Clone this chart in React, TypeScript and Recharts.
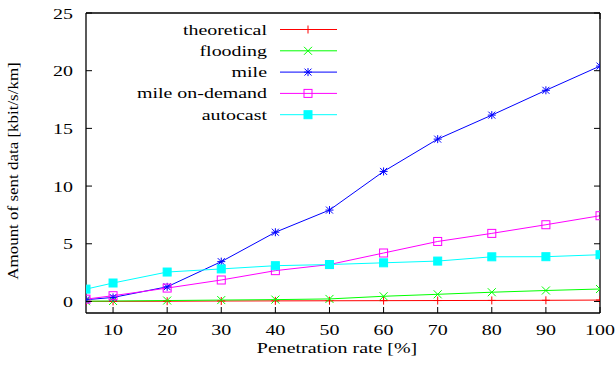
import { Legend, Line, LineChart, XAxis, YAxis } from "recharts";

// penetration rate [%]
const rates = [5, 10, 20, 30, 40, 50, 60, 70, 80, 90, 100];

// amount of sent data [kbit/s/km]
const theoretical = [0.01, 0.01, 0.02, 0.04, 0.05, 0.06, 0.07, 0.08, 0.09, 0.1, 0.12];
const flooding = [0.02, 0.04, 0.08, 0.12, 0.16, 0.22, 0.45, 0.62, 0.8, 0.95, 1.08];
const mile = [0.15, 0.35, 1.27, 3.45, 6.0, 7.92, 11.27, 14.07, 16.15, 18.3, 20.4];
const mileOnDemand = [0.2, 0.5, 1.16, 1.86, 2.67, 3.2, 4.2, 5.2, 5.9, 6.65, 7.43];
const autocast = [1.07, 1.6, 2.55, 2.82, 3.1, 3.2, 3.35, 3.5, 3.87, 3.88, 4.05];

const seriesNames = ["theoretical", "flooding", "mile", "mile on-demand", "autocast"];
const seriesValues = [theoretical, flooding, mile, mileOnDemand, autocast];
const seriesColors = ["#ff0000", "#00ff00", "#0000ff", "#ff00ff", "#00ffff"];
const seriesMarkers = ["plus", "cross", "star", "box", "fbox"];

const xTicks = [10, 20, 30, 40, 50, 60, 70, 80, 90, 100];
const yTicks = [0, 5, 10, 15, 20, 25];

// gnuplot output was stretched horizontally, so text gets a scaleX
const FONT = "'Liberation Serif', serif";
const FS = 15;
const SX = 1.33;
const TICK = 6;

const textStyle = { fontFamily: FONT, fontSize: FS, fill: "#000" };

const chartData = rates.map((rate, i) => {
  const row: Record<string, number> = { rate };
  seriesNames.forEach((name, j) => {
    row[name] = seriesValues[j][i];
  });
  return row;
});

function Marker({ cx, cy, kind, color }: { cx: number; cy: number; kind: string; color: string }) {
  if (cx == null || cy == null) return null;
  const s = 4;
  if (kind === "plus")
    return (
      <g stroke={color} strokeWidth={1}>
        <line x1={cx - s} y1={cy} x2={cx + s} y2={cy} />
        <line x1={cx} y1={cy - s} x2={cx} y2={cy + s} />
      </g>
    );
  if (kind === "cross")
    return (
      <g stroke={color} strokeWidth={1}>
        <line x1={cx - s} y1={cy - s} x2={cx + s} y2={cy + s} />
        <line x1={cx - s} y1={cy + s} x2={cx + s} y2={cy - s} />
      </g>
    );
  if (kind === "star")
    return (
      <g stroke={color} strokeWidth={1}>
        <line x1={cx - s} y1={cy} x2={cx + s} y2={cy} />
        <line x1={cx} y1={cy - s} x2={cx} y2={cy + s} />
        <line x1={cx - 3.5} y1={cy - 3.5} x2={cx + 3.5} y2={cy + 3.5} />
        <line x1={cx - 3.5} y1={cy + 3.5} x2={cx + 3.5} y2={cy - 3.5} />
      </g>
    );
  if (kind === "box")
    return <rect x={cx - 4} y={cy - 4} width={8} height={8} fill="none" stroke={color} strokeWidth={1} />;
  return <rect x={cx - 4} y={cy - 4} width={8} height={8} fill={color} stroke={color} strokeWidth={1} />;
}

function BottomTick(props: any) {
  const { x, y, payload } = props;
  return (
    <g>
      <line x1={x} y1={y} x2={x} y2={y - TICK} stroke="#000" />
      <text transform={`translate(${x},${y + 21.5}) scale(${SX},1)`} textAnchor="middle" style={textStyle}>
        {payload.value}
      </text>
    </g>
  );
}

function TopTick(props: any) {
  const { x, y } = props;
  return <line x1={x} y1={y} x2={x} y2={y + TICK} stroke="#000" />;
}

function LeftTick(props: any) {
  const { x, y, payload } = props;
  return (
    <g>
      <line x1={x} y1={y} x2={x + TICK} y2={y} stroke="#000" />
      <text transform={`translate(${x - 13},${y + 5.5}) scale(${SX},1)`} textAnchor="end" style={textStyle}>
        {payload.value}
      </text>
    </g>
  );
}

function RightTick(props: any) {
  const { x, y } = props;
  return <line x1={x} y1={y} x2={x - TICK} y2={y} stroke="#000" />;
}

function XLabel(props: any) {
  const vb = props.viewBox;
  return (
    <text
      transform={`translate(${vb.x + vb.width / 2 - 6},${vb.y + 40}) scale(${SX},1)`}
      textAnchor="middle"
      style={textStyle}
    >
      Penetration rate [%]
    </text>
  );
}

function YLabel(props: any) {
  const vb = props.viewBox;
  return (
    <text
      transform={`translate(${vb.x + 17.5},${vb.y + vb.height / 2 + 8}) rotate(-90) scale(1.13,1)`}
      textAnchor="middle"
      style={textStyle}
    >
      Amount of sent data [kbit/s/km]
    </text>
  );
}

function KeyBox() {
  return (
    <svg width={616} height={370} style={{ position: "absolute", left: 0, top: 0 }}>
      {seriesNames.map((name, i) => {
        const cy = 29.5 + i * 21.3;
        return (
          <g key={name}>
            <text transform={`translate(267,${cy + 5}) scale(${SX},1)`} textAnchor="end" style={textStyle}>
              {name}
            </text>
            <line x1={280} y1={cy} x2={337} y2={cy} stroke={seriesColors[i]} strokeWidth={1} />
            <Marker cx={308} cy={cy} kind={seriesMarkers[i]} color={seriesColors[i]} />
          </g>
        );
      })}
    </svg>
  );
}

export default function App() {
  return (
    <div style={{ position: "absolute", left: 0, top: 0, width: 616, height: 370, background: "#fff" }}>
      <LineChart width={616} height={370} data={chartData} margin={{ top: 12, right: 15, bottom: 0, left: 0 }}>
        <XAxis
          dataKey="rate"
          type="number"
          domain={[5, 100]}
          ticks={xTicks}
          interval={0}
          allowDataOverflow
          height={57}
          tickSize={0}
          tickMargin={0}
          tick={BottomTick}
          axisLine={{ stroke: "#000", strokeWidth: 1.3 }}
          label={<XLabel />}
        />
        <XAxis
          xAxisId="top"
          orientation="top"
          type="number"
          domain={[5, 100]}
          ticks={xTicks}
          interval={0}
          allowDataOverflow
          height={1}
          tickSize={0}
          tickMargin={0}
          tick={TopTick}
          axisLine={{ stroke: "#000", strokeWidth: 1.3 }}
        />
        <YAxis
          type="number"
          domain={[-1, 25]}
          ticks={yTicks}
          interval={0}
          allowDataOverflow
          width={86}
          tickSize={0}
          tickMargin={0}
          tick={LeftTick}
          axisLine={{ stroke: "#000", strokeWidth: 1.3 }}
          label={<YLabel />}
        />
        <YAxis
          yAxisId="right"
          orientation="right"
          type="number"
          domain={[-1, 25]}
          ticks={yTicks}
          interval={0}
          allowDataOverflow
          width={1}
          tickSize={0}
          tickMargin={0}
          tick={RightTick}
          axisLine={{ stroke: "#000", strokeWidth: 1.3 }}
        />
        <Legend
          layout="horizontal"
          align="center"
          verticalAlign="middle"
          content={<KeyBox />}
          wrapperStyle={{ position: "absolute", left: 0, top: 0, width: 616, height: 370, pointerEvents: "none" }}
        />
        {seriesNames.map((name, i) => (
          <Line
            key={name}
            dataKey={name}
            type="linear"
            stroke={seriesColors[i]}
            strokeWidth={1}
            isAnimationActive={false}
            activeDot={false}
            dot={(p: any) => (
              <Marker key={`${name}-${p.index}`} cx={p.cx} cy={p.cy} kind={seriesMarkers[i]} color={seriesColors[i]} />
            )}
          />
        ))}
      </LineChart>
    </div>
  );
}
